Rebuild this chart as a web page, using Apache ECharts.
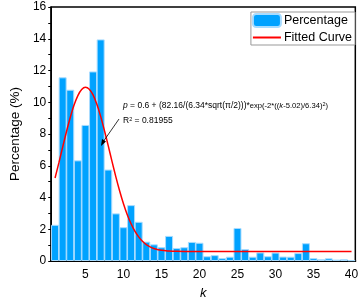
<!DOCTYPE html>
<html><head><meta charset="utf-8">
<script src="https://cdn.jsdelivr.net/npm/echarts@6/dist/echarts.min.js"></script>
<style>html,body{margin:0;padding:0;background:#fff}#c{width:361px;height:305px}</style>
</head><body><div id="c"></div>
<script>
var kValues = [1,2,3,4,5,6,7,8,9,10,11,12,13,14,15,16,17,18,19,20,21,22,23,24,25,26,27,28,29,30,31,32,33,34,35,36,37,38,39,40];
var percentage = [2.28,11.57,10.79,6.34,8.57,11.94,13.96,5.76,3.0,2.13,3.52,2.47,1.22,1.05,0.87,1.58,0.82,0.87,1.2,1.15,0.3,0.37,0.18,0.27,2.08,0.75,0.27,0.54,0.3,0.53,0.28,0.27,0.5,1.12,0.18,0.11,0.17,0.09,0.11,0.05];
var fitK = [1,1.5,2,2.5,3,3.5,4,4.5,5,5.5,6,6.5,7,7.5,8,8.5,9,9.5,10,10.5,11,11.5,12,12.5,13,13.5,14,15,16,17,18,20,25,30,35,40];
var fitP = [5.23,6.18,7.17,8.14,9.04,9.82,10.42,10.80,10.94,10.82,10.46,9.87,9.11,8.21,7.25,6.26,5.30,4.41,3.61,2.92,2.35,1.88,1.52,1.24,1.03,0.89,0.79,0.67,0.63,0.61,0.60,0.60,0.60,0.60,0.60,0.60];
var xTicks = [5,10,15,20,25,30,35,40];

var barData = kValues.map(function(k,i){return [k, percentage[i]];});
var lineData = fitK.map(function(k,i){return [k, fitP[i]];});

var chart = echarts.init(document.getElementById('c'), null, {renderer:'canvas'});
var font = 'Liberation Sans, Arial, sans-serif';
chart.setOption({
  animation:false,
  textStyle:{fontFamily:font},
  grid:{left:36, right:5, top:7, bottom:39, show:true, borderColor:'#000', borderWidth:1.5},
  legend:{
    orient:'vertical', right:6, top:12, itemWidth:28, itemHeight:13, itemGap:3,
    padding:[1,3,1,1], borderColor:'#999', borderWidth:1, backgroundColor:'#fff',
    textStyle:{fontSize:12.5, color:'#000', fontFamily:font, padding:[0,0,0,-2]},
    data:[{name:'Percentage'},{name:'Fitted Curve'}]
  },
  xAxis:{
    type:'value', min:0.5, max:40.5,
    name:'k', nameLocation:'middle', nameGap:26,
    nameTextStyle:{fontSize:13, fontStyle:'italic', color:'#000', fontFamily:font},
    axisLine:{show:true, lineStyle:{color:'#000', width:2}},
    axisTick:{show:false},
    splitLine:{show:false},
    axisLabel:{customValues:xTicks, fontSize:12, color:'#000', margin:8, fontFamily:font}
  },
  yAxis:{
    type:'value', min:0, max:16, interval:2,
    name:'Percentage (%)', nameLocation:'middle', nameGap:22,
    nameTextStyle:{fontSize:13.5, color:'#000', fontFamily:font},
    axisLine:{show:true, lineStyle:{color:'#000', width:1.5}},
    axisTick:{show:true, inside:false, length:3, lineStyle:{color:'#000'}},
    minorTick:{show:true, splitNumber:2, length:3, lineStyle:{color:'#000'}},
    splitLine:{show:false},
    axisLabel:{fontSize:12, color:'#000', margin:5, fontFamily:font}
  },
  series:[
    {name:'Percentage', type:'bar', data:barData, barWidth:8,
     itemStyle:{color:'#00a2ff', borderColor:'#a8dcff', borderWidth:1}},
    {name:'Fitted Curve', type:'line', data:lineData, smooth:0.3, symbol:'none',
     lineStyle:{color:'#ff0000', width:1.5}, itemStyle:{color:'rgba(255,0,0,0)', borderWidth:0}, z:5}
  ],
  graphic:[
    {type:'text', left:123, top:101, z:10, style:{
      text:'{i|p} = 0.6 + (82.16/(6.34*sqrt(π/2)))*{s|exp(-2*((}{si|k}{s|-5.02)/6.34)}{sup|2}{s|)}',
      fontSize:8.5, fill:'#000', fontFamily:font,
      rich:{i:{fontStyle:'italic',fontSize:8.5,fontFamily:font}, s:{fontSize:7.6,fontFamily:font}, si:{fontSize:7.6,fontStyle:'italic',fontFamily:font}, sup:{fontSize:5.5,verticalAlign:'top',fontFamily:font}}
    }},
    {type:'text', left:123, top:116, z:10, style:{
      text:'R{sup|2} = 0.81955', fontSize:8.5, fill:'#000', fontFamily:font,
      rich:{sup:{fontSize:5.5, verticalAlign:'top', fontFamily:font}}
    }},
    {type:'line', z:10, shape:{x1:119, y1:119, x2:103, y2:142}, style:{stroke:'#000', lineWidth:0.8}},
    {type:'polygon', z:10, shape:{points:[[101,146],[102,139],[106,141.5]]}, style:{fill:'#000'}}
  ]
});
</script></body></html>
